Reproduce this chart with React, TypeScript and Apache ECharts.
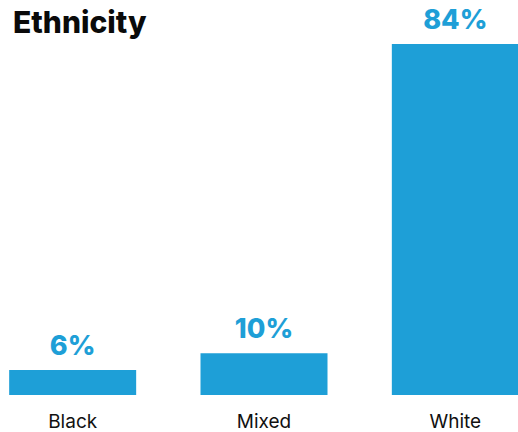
import React, { useEffect, useRef } from "react";
import * as echarts from "echarts";

const categories = ["Black", "Mixed", "White"];
const values = [6, 10, 84];
const title = "Ethnicity";

export default function App() {
  const ref = useRef<HTMLDivElement>(null);
  useEffect(() => {
    document.body.style.margin = "0";
    const chart = echarts.init(ref.current!, null, { renderer: "svg" });
    chart.setOption({
      animation: false,
      title: {
        text: title,
        left: 31,
        top: 2,
        textStyle: {
          fontFamily: "Inter",
          fontWeight: 800,
          fontSize: 30,
          color: "#0a0a0a",
        },
      },
      grid: { left: 0, right: 0, top: 44, bottom: 37, containLabel: false },
      xAxis: {
        type: "category",
        data: categories,
        axisLine: { show: false },
        axisTick: { show: false },
        axisLabel: {
          margin: 17,
          lineHeight: 19,
          fontFamily: "Inter",
          fontSize: 19,
          color: "#111111",
        },
      },
      yAxis: {
        type: "value",
        min: 0,
        max: 84,
        show: false,
        splitLine: { show: false },
      },
      series: [
        {
          type: "bar",
          data: values,
          barWidth: 127,
          itemStyle: { color: "#1e9fd7" },
          label: {
            show: true,
            position: "top",
            distance: 11,
            formatter: "{c}%",
            fontFamily: "Inter",
            fontWeight: 800,
            fontSize: 27,
            color: "#1e9fd7",
          },
        },
      ],
    });
    return () => chart.dispose();
  }, []);
  return (
    <div style={{ width: 518, height: 432, overflow: "hidden", position: "relative" }}>
      <div ref={ref} style={{ width: 574, height: 432, position: "absolute", left: -23, top: 0 }} />
    </div>
  );
}
